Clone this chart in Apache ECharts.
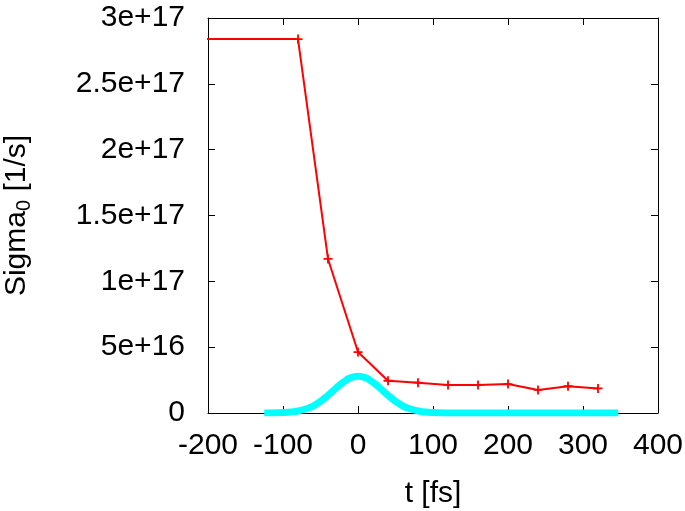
<!DOCTYPE html>
<html><head><meta charset="utf-8">
<script src="https://cdn.jsdelivr.net/npm/echarts@6/dist/echarts.min.js"></script>
<style>html,body{margin:0;padding:0;background:#fff}#c{width:685px;height:511px}</style>
</head><body><div id="c"></div>
<script>
// Red series: Sigma_0 vs t
const sigmaT = [-240, -80, -40, 0, 40, 80, 120, 160, 200, 240, 280, 320];
const sigmaV = [2.84e17, 2.84e17, 1.17e17, 4.63e16, 2.45e16, 2.3e16, 2.13e16, 2.13e16, 2.2e16, 1.75e16, 2.03e16, 1.87e16];
// Cyan pulse envelope (in 1e16 units)
const pulseT = [-125, -120, -110, -100, -90, -80, -70, -60, -50, -40, -30, -20, -10, 0, 10, 20, 30, 40, 50, 60, 70, 80, 90, 100, 110, 120, 200, 300, 347];
const pulseV = [0, 0, 0.01, 0.03, 0.07, 0.15, 0.30, 0.53, 0.89, 1.34, 1.85, 2.32, 2.67, 2.8, 2.67, 2.32, 1.85, 1.34, 0.89, 0.53, 0.30, 0.15, 0.07, 0.03, 0.01, 0, 0, 0, 0];
const xTicks = [-200, -100, 0, 100, 200, 300, 400];
const yTicks = [0, 5e16, 1e17, 1.5e17, 2e17, 2.5e17, 3e17];

const font = 'Liberation Sans, Arial, Helvetica, sans-serif';
const chart = echarts.init(document.getElementById('c'), null, {renderer: 'canvas'});
const plus = 'path://M3.2,0H4.8V3.2H8V4.8H4.8V8H3.2V4.8H0V3.2H3.2Z';
const axisLine = {show: true, onZero: false, lineStyle: {color: '#000', width: 1}};
const tick = {show: true, inside: true, length: 7, lineStyle: {color: '#000', width: 1}};
chart.setOption({
  animation: false,
  backgroundColor: '#fff',
  grid: {left: 208, right: 27, top: 18, bottom: 98, containLabel: false, outerBoundsMode: 'none'},
  xAxis: [{
    type: 'value', min: xTicks[0], max: xTicks[xTicks.length - 1], interval: 100,
    name: 't [fs]', nameLocation: 'middle', nameGap: 66,
    nameTextStyle: {fontFamily: font, fontSize: 30, color: '#000'},
    axisLine: axisLine, axisTick: tick, splitLine: {show: false},
    axisLabel: {fontFamily: font, fontSize: 30, color: '#000', margin: 18}
  }, {
    type: 'value', position: 'top', min: xTicks[0], max: xTicks[xTicks.length - 1], interval: 100,
    axisLine: axisLine, axisTick: tick, splitLine: {show: false}, axisLabel: {show: false}
  }],
  yAxis: [{
    type: 'value', min: 0, max: yTicks[yTicks.length - 1], interval: 5e16,
    name: 'Sigma{s|0} [1/s]', nameLocation: 'middle', nameGap: 174, nameRotate: 90,
    nameTextStyle: {fontFamily: font, fontSize: 30, color: '#000',
      rich: {s: {fontFamily: font, fontSize: 20, color: '#000', padding: [14, 0, 0, 0]}}},
    axisLine: axisLine, axisTick: tick, splitLine: {show: false},
    axisLabel: {fontFamily: font, fontSize: 30, color: '#000', margin: 23,
      formatter: v => v === 0 ? '0' : v.toExponential()}
  }, {
    type: 'value', position: 'right', min: 0, max: yTicks[yTicks.length - 1], interval: 5e16,
    axisLine: axisLine, axisTick: tick, splitLine: {show: false}, axisLabel: {show: false}
  }],
  series: [{
    type: 'line', xAxisIndex: 0, yAxisIndex: 0, clip: true,
    data: pulseT.map((t, i) => [t, pulseV[i] * 1e16]),
    smooth: true, showSymbol: false, symbol: 'none',
    lineStyle: {color: '#00ffff', width: 7}, z: 2
  }, {
    type: 'line', xAxisIndex: 0, yAxisIndex: 0, clip: true,
    data: sigmaT.map((t, i) => [t, sigmaV[i]]),
    symbol: plus, symbolSize: 9, showSymbol: true,
    itemStyle: {color: '#ff0000'},
    lineStyle: {color: '#ff0000', width: 2}, z: 3
  }]
});
</script></body></html>
